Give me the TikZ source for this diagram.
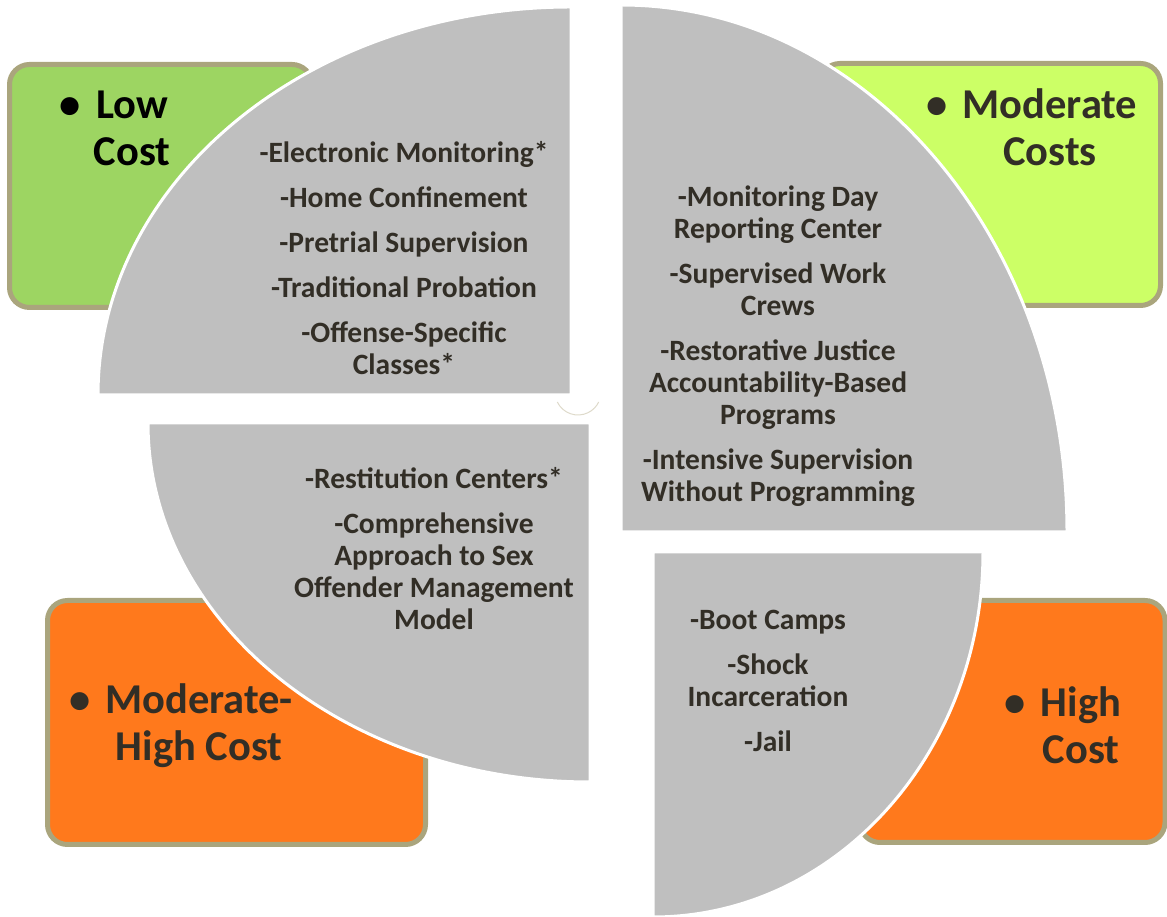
\documentclass[tikz,border=0pt]{standalone}
\usepackage{fontspec}
\setmainfont{Carlito}
\definecolor{piegray}{RGB}{191,191,191}
\definecolor{lowgreen}{RGB}{157,213,98}
\definecolor{modlime}{RGB}{204,255,102}
\definecolor{costorange}{RGB}{255,121,28}
\definecolor{boxrim}{RGB}{170,165,125}
\definecolor{inkdark}{RGB}{50,46,38}
\definecolor{arcbeige}{RGB}{222,218,202}

\begin{document}
\begin{tikzpicture}[x=1pt,y=1pt,
  pie/.style={fill=piegray,draw=white,line width=3pt},
  costbox/.style={draw=boxrim,line width=5pt,rounded corners=20pt},
  costlabel/.style={font=\fontsize{42.5}{47}\selectfont\bfseries,align=center,text=inkdark},
  itemlist/.style={font=\fontsize{29.5}{32}\selectfont\bfseries,align=center,text=inkdark}]
\useasboundingbox (0,0) rectangle (1167,917);
% cost boxes
\draw[costbox,fill=lowgreen](9.5,609.5) rectangle (312,852.5);
\draw[costbox,fill=modlime](820,611.5) rectangle (1160.5,853.5);
\draw[costbox,fill=costorange](47.5,72.5) rectangle (425.5,316.5);
\draw[costbox,fill=costorange](860,74.5) rectangle (1165,316.5);
% quarter pies
\draw[pie](571,522)--(98,522) arc[start angle=180,end angle=90,x radius=473,y radius=388]--cycle;
\draw[pie](621,385)--(1067,385) arc[start angle=0,end angle=90,x radius=446,y radius=527]--cycle;
\draw[pie](590,494)--(148,494) arc[start angle=180,end angle=270,x radius=442,y radius=359]--cycle;
\draw[pie](653,365)--(983,365) arc[start angle=0,end angle=-90,x radius=330,y radius=365]--cycle;
\draw[arcbeige,line width=1pt](578,525) ++(205.8:23) arc[start angle=205.8,end angle=334.2,radius=23];
% labels
\node[costlabel,text=black] (lowlabel) at (132,788.5) {\llap{\textbullet\hspace{15pt}}Low\\Cost};
\node[costlabel] (modlabel) at (1050,790) {\llap{\textbullet\hspace{15pt}}Moderate\\Costs};
\node[costlabel] (modhighlabel) at (199,191.5) {\llap{\textbullet\hspace{15pt}}Moderate-\\High Cost};
\node[costlabel] (highlabel) at (1081,191.5) {\llap{\textbullet\hspace{15pt}}High\\Cost};
% program lists
\node[itemlist] (lowlist) at (404,658.5) {-Electronic Monitoring*\\[13pt]-Home Confinement\\[13pt]-Pretrial Supervision\\[13pt]-Traditional Probation\\[13pt]-Offense-Specific\\Classes*};
\node[itemlist] (modlist) at (778,571) {-Monitoring Day\\Reporting Center\\[13pt]-Supervised Work\\Crews\\[13pt]-Restorative Justice\\Accountability-Based\\Programs\\[13pt]-Intensive Supervision\\Without Programming};
\node[itemlist] (modhighlist) at (434,368.5) {-Restitution Centers*\\[13pt]-Comprehensive\\Approach to Sex\\Offender Management\\Model};
\node[itemlist] (highlist) at (768,236) {-Boot Camps\\[13pt]-Shock\\Incarceration\\[13pt]-Jail};
\end{tikzpicture}
\end{document}
